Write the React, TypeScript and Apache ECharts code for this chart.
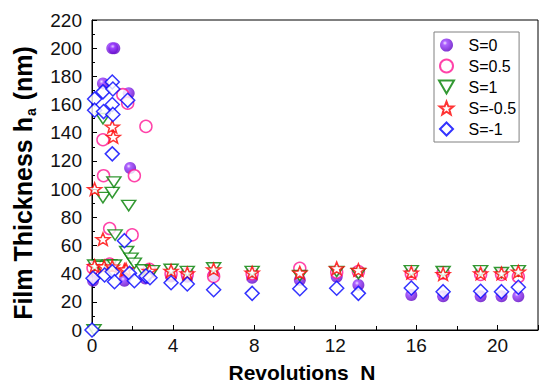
import React, { useEffect, useRef } from "react";
import * as echarts from "echarts";

const seriesNames = ["S=0", "S=0.5", "S=1", "S=-0.5", "S=-1"];

const s0: number[][] = [
  [0.05, 35], [0.54, 175], [1.0, 200], [1.1, 200], [1.6, 35], [1.81, 168], [1.88, 115], [2.63, 36.5],
  [3.9, 38], [4.7, 37.8], [6.0, 39], [7.9, 37], [10.25, 35.5], [12.07, 37.8], [13.14, 32],
  [15.75, 24.8], [17.32, 24], [19.17, 24], [20.2, 24], [21.03, 24],
];
const s05: number[][] = [
  [0.05, 44], [0.54, 135], [0.57, 109.5], [0.87, 72], [0.87, 46.8], [1.52, 167], [1.76, 161],
  [1.98, 67.5], [2.09, 109.5], [2.66, 144.5], [2.83, 43], [3.9, 40], [4.7, 40], [6.0, 38], [7.9, 40],
  [10.25, 43.8], [12.07, 41], [13.14, 41.5], [15.75, 40], [17.32, 40.5], [19.17, 39.5], [20.2, 39.5], [21.03, 37.8],
];
const s1: number[][] = [
  [0.1, 0], [0.13, 46], [0.46, 45], [0.54, 150], [0.54, 94], [0.87, 46], [1.0, 97.5], [1.08, 105], [1.11, 46],
  [1.14, 67.4], [1.71, 55.6], [1.81, 88.3], [1.93, 50.9], [2.09, 47.3], [2.5, 42.6], [2.99, 42],
  [3.9, 43], [4.7, 41.5], [6.0, 44], [7.9, 41.5], [10.25, 38.5], [12.07, 41.5], [13.14, 40],
  [15.75, 42], [17.32, 41.4], [19.17, 42], [20.2, 40.7], [21.03, 42],
];
const sm05: number[][] = [
  [0.13, 45.4], [0.13, 100], [0.54, 64.5], [0.6, 45], [1.0, 144.3], [1.05, 137], [1.0, 45], [1.6, 42.6],
  [1.68, 43], [2.83, 42], [3.9, 42], [4.7, 40.2], [6.0, 43], [7.9, 40.7], [10.25, 40.7], [12.07, 43.8],
  [13.14, 42.6], [15.75, 40.7], [17.32, 39.7], [19.17, 40.2], [20.2, 40.2], [21.03, 41.4],
];
const sm1: number[][] = [
  [0, 0], [0.05, 36.7], [0.13, 164], [0.13, 156], [0.54, 169], [0.57, 155], [0.62, 39], [1.0, 176],
  [1.03, 171], [1.0, 160], [1.03, 153], [1.0, 125], [1.0, 41.4], [1.11, 34.3], [1.6, 63.4], [1.76, 163],
  [1.85, 40.2], [2.09, 35], [2.66, 38.3], [2.86, 37.1], [3.9, 33.5], [4.7, 32.6], [6.0, 28.6], [7.9, 26],
  [10.25, 29.3], [12.07, 29.6], [13.14, 26], [15.75, 29.8], [17.32, 27.2], [19.17, 27.5], [20.2, 27.2], [21.03, 30.3],
];

const xTicks = { min: 0, max: 22, interval: 4 };
const yTicks = { min: 0, max: 220, interval: 20 };

const STAR = "path://M50,0 L62.5,33 L97.55,34.55 L70,56.5 L79.39,90.45 L50,71 L20.61,90.45 L30,56.5 L2.45,34.55 L37.5,33 Z";
const TRI_DOWN = "path://M0,0 L100,0 L50,86.6 Z";
const DIAMOND = "path://M50,0 L100,50 L50,100 L0,50 Z";

const FONT = "'Liberation Sans', Arial, sans-serif";

export default function App() {
  const ref = useRef<HTMLDivElement>(null);
  useEffect(() => {
    if (!ref.current) return;
    const chart = echarts.init(ref.current, null, { renderer: "svg" });
    const sphere = {
      type: "radial",
      x: 0.38,
      y: 0.35,
      r: 0.7,
      colorStops: [
        { offset: 0, color: "#f0e0ff" },
        { offset: 0.25, color: "#9a3cff" },
        { offset: 1, color: "#5a00c0" },
      ],
    };
    const base = { type: "scatter", clip: true, z: 2, symbolKeepAspect: true };
    chart.setOption({
      animation: false,
      backgroundColor: "#fff",
      textStyle: { fontFamily: FONT },
      grid: { left: 92, right: 2, top: 20, bottom: 55, show: true, borderColor: "#000", borderWidth: 1, backgroundColor: "transparent" },
      xAxis: {
        type: "value",
        min: xTicks.min,
        max: xTicks.max,
        interval: xTicks.interval,
        axisLine: { show: true, onZero: false, lineStyle: { color: "#000", width: 1 } },
        axisTick: { show: true, inside: true, length: 5, lineStyle: { color: "#000" } },
        minorTick: { show: true, splitNumber: 2, length: 4, lineStyle: { color: "#000" } },
        splitLine: { show: false },
        axisLabel: { color: "#111", fontSize: 19, margin: 6, fontFamily: FONT, formatter: (v: number) => (v % 4 === 0 ? String(v) : "") },
      },
      yAxis: {
        type: "value",
        min: yTicks.min,
        max: yTicks.max,
        interval: yTicks.interval,
        axisLine: { show: true, onZero: false, lineStyle: { color: "#000", width: 1 } },
        axisTick: { show: true, inside: true, length: 5, lineStyle: { color: "#000" } },
        minorTick: { show: true, splitNumber: 2, length: 3, lineStyle: { color: "#000" } },
        splitLine: { show: false },
        axisLabel: { color: "#111", fontSize: 19, margin: 10, fontFamily: FONT },
      },
      legend: {
        orient: "vertical",
        left: 434,
        top: 32,
        padding: [5, 3, 5, 4],
        itemGap: 5,
        itemWidth: 34,
        itemHeight: 13,
        borderColor: "#808080",
        borderWidth: 1,
        backgroundColor: "#fff",
        textStyle: { fontSize: 16, color: "#000", fontFamily: FONT },
        data: seriesNames,
      },
      graphic: [
        {
          type: "text",
          x: 23,
          y: 183,
          rotation: Math.PI / 2,
          style: {
            text: "{b|Film Thickness h}{s|a}{b| (nm)}",
            align: "center",
            verticalAlign: "middle",
            rich: {
              b: { fontSize: 25, fontWeight: "bold", fontFamily: FONT, fill: "#000", lineHeight: 30 },
              s: { fontSize: 14, fontWeight: "bold", fontFamily: FONT, fill: "#000", lineHeight: 30, verticalAlign: "bottom", padding: [0, 1, 0, 1] },
            },
          },
        },
        {
          type: "text",
          x: 302,
          y: 372,
          style: {
            text: "Revolutions  N",
            align: "center",
            verticalAlign: "middle",
            fontSize: 21,
            fontWeight: "bold",
            fontFamily: FONT,
            fill: "#000",
          },
        },
      ],
      series: [
        { ...base, name: seriesNames[0], data: s0, symbol: "circle", symbolSize: 12, itemStyle: { color: sphere } },
        { ...base, name: seriesNames[1], data: s05, symbol: "circle", symbolSize: 12, itemStyle: { color: "#fff", borderColor: "#ff1493", borderWidth: 1.5 } },
        { ...base, name: seriesNames[2], data: s1, symbol: TRI_DOWN, symbolSize: [14, 12], itemStyle: { color: "#fff", borderColor: "#008000", borderWidth: 1.5 } },
        { ...base, name: seriesNames[3], data: sm05, symbol: STAR, symbolSize: [14, 13], itemStyle: { color: "#fff", borderColor: "#ff0000", borderWidth: 1.5 } },
        { ...base, name: seriesNames[4], data: sm1, symbol: DIAMOND, symbolSize: 14, itemStyle: { color: "#fff", borderColor: "#0000ff", borderWidth: 1.5 } },
      ],
    });
    return () => chart.dispose();
  }, []);
  return <div ref={ref} style={{ position: "absolute", left: 0, top: 0, width: 541, height: 385 }} />;
}
